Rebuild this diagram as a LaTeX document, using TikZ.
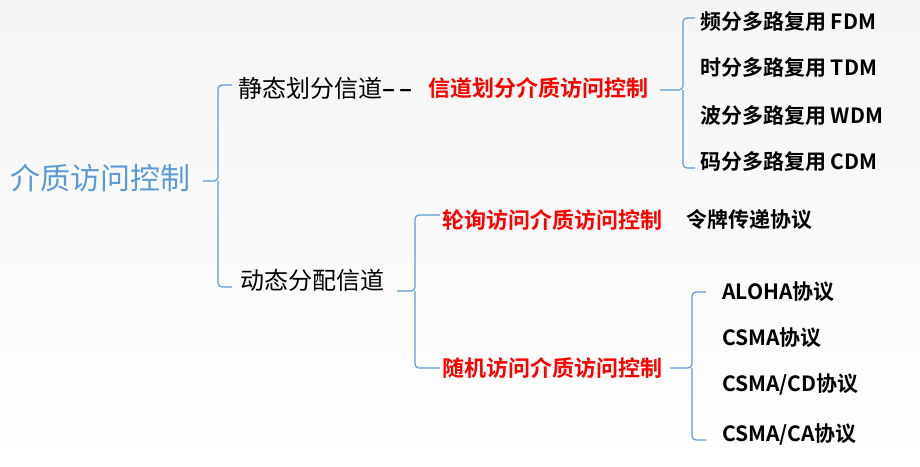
\documentclass[tikz,border=0pt]{standalone}
\usepackage{fontspec}
\setmainfont{Noto Sans CJK SC}[BoldFont={Noto Sans CJK SC Bold}]
\usetikzlibrary{positioning}
\definecolor{brkblue}{RGB}{91,155,213}
\definecolor{redtxt}{RGB}{255,0,0}
\tikzset{
  brk/.style={brkblue,line width=1.2pt,rounded corners=4pt},
  item/.style={anchor=west,inner sep=0pt,font=\fontsize{21}{21}\selectfont\bfseries},
  redit/.style={anchor=west,inner sep=0pt,text=redtxt,font=\fontsize{22}{22}\selectfont\bfseries},
  mid/.style={anchor=west,inner sep=0pt,font=\fontsize{24}{24}\selectfont}
}
\begin{document}
\begin{tikzpicture}[x=1pt,y=-1pt]
\shade[top color=gray!8,bottom color=white] (0,0) rectangle (920,466);
\useasboundingbox (0,0) rectangle (920,466);
% root
\node[anchor=west,inner sep=0pt,text=brkblue,font=\fontsize{30}{30}\selectfont] (root) at (10,178) {介质访问控制};
% level 1
\node[mid] (stat) at (238,88) {静态划分信道\bfseries –\,–};
\node[redit] (chdiv) at (428,88) {信道划分介质访问控制};
\node[mid] (dyn) at (240,280) {动态分配信道};
% level 2
\node[redit] (poll) at (442,220) {轮询访问介质访问控制};
\node[item] (token) at (686,220) {令牌传递协议};
\node[redit] (rand) at (442,368) {随机访问介质访问控制};
% multiplexing
\node[item] (fdm) at (700,22) {频分多路复用 FDM};
\node[item] (tdm) at (700,68) {时分多路复用 TDM};
\node[item] (wdm) at (700,116) {波分多路复用 WDM};
\node[item] (cdm) at (700,162) {码分多路复用 CDM};
% random access
\node[item] (aloha) at (722,292) {ALOHA协议};
\node[item] (csma) at (722,338) {CSMA协议};
\node[item] (csmacd) at (722,384) {CSMA/CD协议};
\node[item] (csmaca) at (722,434) {CSMA/CA协议};
% brackets
\draw[brk] (stat.west)++(-6,-3) -| (218,181) -- (203,181);
\draw[brk] (dyn.west)++(-8,7) -| (218,181);
\draw[brk] (poll.west)++(-2,-5) -| (415,291) -- (397,291);
\draw[brk] (rand.west)++(-2,0) -| (415,291);
\draw[brk] (fdm.west)++(-5,-4) -| (683,90) -- (660,90);
\draw[brk] (cdm.west)++(-5,6) -| (683,90);
\draw[brk] (aloha.west)++(-16,0) -| (692,368) -- (670,368);
\draw[brk] (csmaca.west)++(-16,6) -| (692,368);
\end{tikzpicture}
\end{document}
